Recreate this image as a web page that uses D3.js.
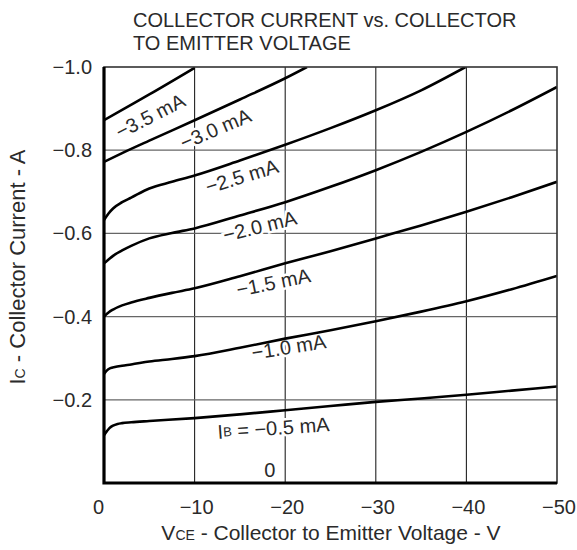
<!DOCTYPE html>
<html>
<head>
<meta charset="utf-8">
<script src="https://cdn.jsdelivr.net/npm/d3@7"></script>
<style>
  body { margin: 0; background: #fff; }
  text { font-family: "Liberation Sans", Arial, sans-serif; fill: #2a2a2a; }
</style>
</head>
<body>
<svg id="chart" width="577" height="550"></svg>
<script>
// collector current (A) vs collector-emitter voltage (V), one curve per base current
var ibLabels = ["−3.5 mA", "−3.0 mA", "−2.5 mA", "−2.0 mA", "−1.5 mA", "−1.0 mA", "IB = −0.5 mA"];

var vce35 = [0, -2, -5, -10];
var ic35  = [-0.872, -0.897, -0.934, -0.998];

var vce30 = [0, -2, -5, -10, -15, -20, -22.4];
var ic30  = [-0.772, -0.793, -0.823, -0.872, -0.922, -0.973, -1.0];

var vce25 = [0, -0.5, -1, -2, -3, -5, -7.5, -10, -15, -20, -25, -30, -35, -39.9];
var ic25  = [-0.632, -0.648, -0.660, -0.675, -0.686, -0.708, -0.724, -0.739, -0.775, -0.813, -0.853, -0.896, -0.944, -1.0];

var vce20 = [0, -0.5, -1, -2, -3, -5, -7.5, -10, -15, -20, -25, -30, -35, -40, -45, -50];
var ic20  = [-0.528, -0.537, -0.546, -0.559, -0.570, -0.588, -0.601, -0.612, -0.643, -0.675, -0.712, -0.752, -0.796, -0.844, -0.896, -0.952];

var vce15 = [0, -0.5, -1, -2, -3, -5, -7.5, -10, -15, -20, -25, -30, -35, -40, -45, -50];
var ic15  = [-0.400, -0.410, -0.417, -0.427, -0.434, -0.445, -0.457, -0.468, -0.497, -0.528, -0.557, -0.588, -0.619, -0.652, -0.687, -0.724];

var vce10 = [0, -0.3, -0.7, -1.2, -2, -3, -5, -7.5, -10, -15, -20, -25, -30, -35, -40, -45, -50];
var ic10  = [-0.262, -0.270, -0.276, -0.279, -0.282, -0.285, -0.292, -0.298, -0.305, -0.325, -0.347, -0.367, -0.389, -0.412, -0.437, -0.466, -0.498];

var vce05 = [0, -0.3, -0.6, -1, -1.5, -2, -3, -5, -10, -15, -20, -25, -30, -35, -40, -45, -50];
var ic05  = [-0.115, -0.124, -0.132, -0.138, -0.142, -0.144, -0.146, -0.149, -0.156, -0.165, -0.175, -0.185, -0.195, -0.203, -0.212, -0.222, -0.232];

var xTicks = [0, -10, -20, -30, -40, -50];
var yTicks = [-0.2, -0.4, -0.6, -0.8, -1.0];

// where each curve label sits (in data units) and its tilt
var labelV     = [-5.1, -12.3, -15.2, -17.2, -18.7, -20.4, -18.7, -18.3];
var labelI     = [-0.882, -0.851, -0.737, -0.617, -0.482, -0.327, -0.132, -0.032];
var labelAngle = [-27, -23, -17, -14, -11.5, -9, -4, 0];

var curves = [
  [vce35, ic35], [vce30, ic30], [vce25, ic25], [vce20, ic20],
  [vce15, ic15], [vce10, ic10], [vce05, ic05]
];

// layout (window.top is read-only, so plot* names)
var plotL = 104, plotR = 557, plotT = 67, plotB = 483;

var x = d3.scaleLinear().domain([0, -50]).range([plotL, plotR]);
var y = d3.scaleLinear().domain([0, -1]).range([plotB, plotT]);

var svg = d3.select('#chart');

svg.append('defs').append('clipPath')
  .attr('id', 'plot')
  .append('rect')
  .attr('x', plotL).attr('y', plotT)
  .attr('width', plotR - plotL).attr('height', plotB - plotT);

// grid
svg.append('g').selectAll('line')
  .data(xTicks.slice(1, -1))
  .enter().append('line')
  .attr('x1', function(d) { return x(d); })
  .attr('x2', function(d) { return x(d); })
  .attr('y1', plotT).attr('y2', plotB)
  .attr('stroke', '#222').attr('stroke-width', 1.1);

svg.append('g').selectAll('line')
  .data(yTicks.slice(0, -1))
  .enter().append('line')
  .attr('y1', function(d) { return y(d); })
  .attr('y2', function(d) { return y(d); })
  .attr('x1', plotL).attr('x2', plotR)
  .attr('stroke', '#666').attr('stroke-width', 1.3);

// curve labels, white halo breaks the grid like the original
var labelText = ibLabels.concat(["0"]);
var lab = svg.append('g').selectAll('text')
  .data(labelText)
  .enter().append('text')
  .attr('text-anchor', 'middle')
  .attr('dominant-baseline', 'central')
  .attr('font-size', 20)
  .attr('stroke', '#fff').attr('stroke-width', 5)
  .attr('paint-order', 'stroke')
  .attr('transform', function(d, i) {
    return 'translate(' + x(labelV[i]) + ',' + y(labelI[i]) + ') rotate(' + labelAngle[i] + ')';
  });

lab.each(function(d) {
  var t = d3.select(this);
  if (d.indexOf('IB') === 0) {
    t.append('tspan').text('I');
    t.append('tspan').attr('font-size', 13).text('B');
    t.append('tspan').text(d.slice(2));
  } else {
    t.text(d);
  }
});

// curves
var line = d3.line()
  .x(function(d) { return x(d[0]); })
  .y(function(d) { return y(d[1]); })
  .curve(d3.curveMonotoneX);

svg.append('g')
  .attr('clip-path', 'url(#plot)')
  .selectAll('path')
  .data(curves)
  .enter().append('path')
  .attr('d', function(c) { return line(d3.zip(c[0], c[1])); })
  .attr('fill', 'none')
  .attr('stroke', '#000')
  .attr('stroke-width', 2.6);

// frame: thin top/right, heavy left/bottom
svg.append('rect')
  .attr('x', plotL).attr('y', plotT)
  .attr('width', plotR - plotL).attr('height', plotB - plotT)
  .attr('fill', 'none').attr('stroke', '#333').attr('stroke-width', 1.6);

svg.append('path')
  .attr('d', 'M' + plotL + ',' + plotT + 'V' + plotB + 'H' + plotR)
  .attr('fill', 'none').attr('stroke', '#000').attr('stroke-width', 3.2);

// axes
var xAxis = d3.axisBottom(x).tickValues(xTicks).tickSize(0).tickPadding(17)
  .tickFormat(d3.format('d'));
var yAxis = d3.axisLeft(y).tickValues(yTicks).tickSize(0).tickPadding(12)
  .tickFormat(d3.format('.1f'));

var gx = svg.append('g').attr('transform', 'translate(0,' + plotB + ')').call(xAxis);
var gy = svg.append('g').attr('transform', 'translate(' + plotL + ',0)').call(yAxis);
gx.select('.domain').remove();
gy.select('.domain').remove();
svg.selectAll('.tick text')
  .attr('font-size', 20)
  .attr('font-family', '"Liberation Sans", Arial, sans-serif')
  .attr('fill', '#2a2a2a');
// the original sets its "0" a bit left of the axis corner
gx.selectAll('.tick text')
  .attr('dx', function(d) { return d === 0 ? -6 : 1.5; });

// titles
svg.append('text').attr('x', 133).attr('y', 27).attr('font-size', 20)
  .text('COLLECTOR CURRENT vs. COLLECTOR');
svg.append('text').attr('x', 133).attr('y', 50).attr('font-size', 20)
  .text('TO EMITTER VOLTAGE');

var xt = svg.append('text')
  .attr('x', 331).attr('y', 540)
  .attr('text-anchor', 'middle').attr('font-size', 21);
xt.append('tspan').text('V');
xt.append('tspan').attr('font-size', 14).text('CE');
xt.append('tspan').text(' - Collector to Emitter Voltage - V');

var yt = svg.append('text')
  .attr('transform', 'translate(25,267) rotate(-90)')
  .attr('text-anchor', 'middle').attr('font-size', 22);
yt.append('tspan').text('I');
yt.append('tspan').attr('font-size', 14).text('C');
yt.append('tspan').text(' - Collector Current - A');
</script>
</body>
</html>
